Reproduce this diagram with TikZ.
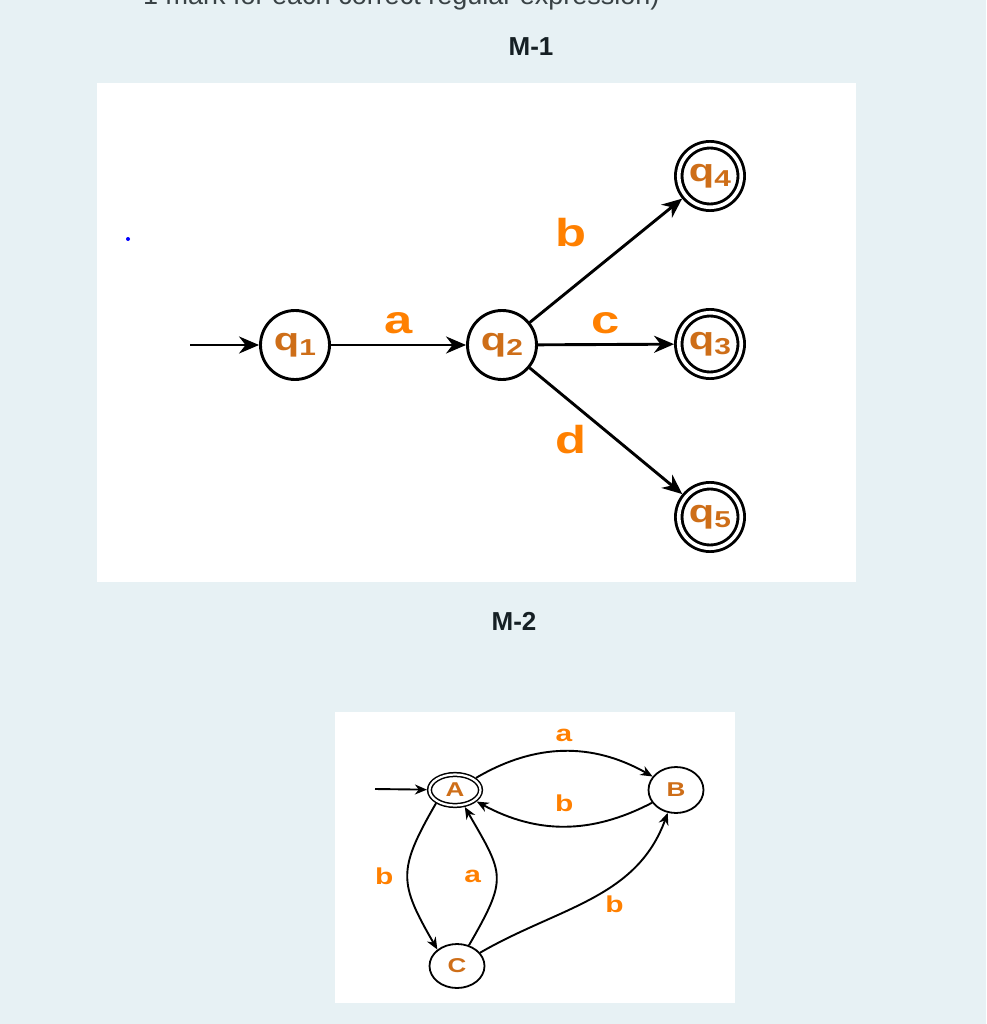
\documentclass[tikz,border=0pt]{standalone}
\usepackage{fontspec}
\setmainfont{Liberation Sans}
\usetikzlibrary{arrows.meta, positioning, shapes.geometric}

\definecolor{fondo}{RGB}{231,241,244}
\definecolor{tinta}{RGB}{22,32,36}
\definecolor{naranjaEst}{RGB}{206,110,24}
\definecolor{naranjaEtq}{RGB}{255,128,0}

% Texto ensanchado como en la captura
\newcommand{\estira}[1]{\scalebox{1.3}[1]{#1}}
\newcommand{\qsub}[1]{q{\fontsize{23}{23}\selectfont\raisebox{-5pt}{#1}}}

\begin{document}
\begin{tikzpicture}[x=1pt, y=1pt,
    estado/.style={circle, draw, line width=2.9pt, fill=white, minimum size=69pt, inner sep=0pt,
      text=naranjaEst, font=\fontsize{32}{32}\selectfont\bfseries},
    final/.style={estado, double, double distance=3.6pt, minimum size=62.5pt, outer sep=4.7pt},
    trans/.style={-{Stealth[length=20pt, width=17pt]}, line width=2.9pt},
    etq/.style={text=naranjaEtq, font=\fontsize{39}{39}\selectfont\bfseries},
    estadoB/.style={ellipse, draw, line width=1.8pt, fill=white, minimum width=55pt, minimum height=44pt,
      inner sep=0pt, text=naranjaEst, font=\fontsize{20}{20}\selectfont\bfseries},
    finalB/.style={estadoB, double, double distance=2.2pt, line width=1.5pt, minimum width=51pt,
      minimum height=31pt, outer sep=2.6pt},
    transB/.style={-{Stealth[length=12pt, width=10pt]}, line width=1.9pt},
    etqB/.style={text=naranjaEtq, font=\fontsize{23}{23}\selectfont\bfseries},
    titulo/.style={text=tinta, font=\fontsize{26}{26}\selectfont\bfseries}]

        % Fondo de la página
        \fill[fondo] (0,0) rectangle (986,-1024);
        \useasboundingbox (0,0) rectangle (986,-1024);

        % Enunciado cortado arriba
        \node[anchor=base west, inner sep=0pt, text=tinta!85, font=\fontsize{27}{27}\selectfont]
            (enunciado) at (143,-4.5) {1 mark for each correct regular expression)};

        % ---------- M-1 ----------
        \node[titulo] (tit1) at (531,-47) {M-1};
        \fill[white] (97,-83) rectangle (856,-582);
        \fill[blue] (128,-239) circle (2pt);

        % Estados
        \node[estado] (q1) at (295,-345) {\estira{\qsub{1}}};
        \node[estado] (q2) at (502,-345) {\estira{\qsub{2}}};
        \node[final] (q4) at (710,-176) {\estira{\qsub{4}}};
        \node[final] (q3) at (710,-344) {\estira{\qsub{3}}};
        \node[final] (q5) at (710,-517) {\estira{\qsub{5}}};
        \coordinate (ini1) at (190,-345);

        % Transiciones
        \draw[trans] (ini1) -- (q1);
        \draw[trans] (q1) -- node[etq, above=6pt] {\estira{a}} (q2);
        \draw[trans] (q2) -- node[etq, xshift=-35pt, yshift=28pt] {\estira{b}} (q4);
        \draw[trans] (q2) -- node[etq, above=6pt] {\estira{c}} (q3);
        \draw[trans] (q2) -- node[etq, xshift=-35pt, yshift=-9pt] {\estira{d}} (q5);

        % ---------- M-2 ----------
        \node[titulo] (tit2) at (514,-621) {M-2};
        \fill[white] (335,-712) rectangle (735,-1003);

        % Estados
        \node[finalB] (A) at (455,-790) {\estira{A}};
        \node[estadoB, minimum height=46pt] (B) at (676,-790) {\estira{B}};
        \node[estadoB] (C) at (457,-966) {\estira{C}};
        \coordinate (ini2) at (375,-789);

        % Transiciones
        \draw[transB] (ini2) -- (A);
        \draw[transB] (A) to[bend left=30] node[etqB, above=5pt] {\estira{a}} (B);
        \draw[transB] (B) to[bend left=28] node[etqB, above=10pt] {\estira{b}} (A);
        \draw[transB] (A.215) to[out=240, in=120, looseness=1.35] node[etqB, left=10pt] {\estira{b}} (C.140);
        \draw[transB] (C) to[out=60, in=-60, looseness=1.45] node[etqB, left=11pt] {\estira{a}} (A);
        \draw[transB] (C) to[out=30, in=250] node[etqB, pos=0.62, below=8pt] {\estira{b}} (B);

\end{tikzpicture}
\end{document}
